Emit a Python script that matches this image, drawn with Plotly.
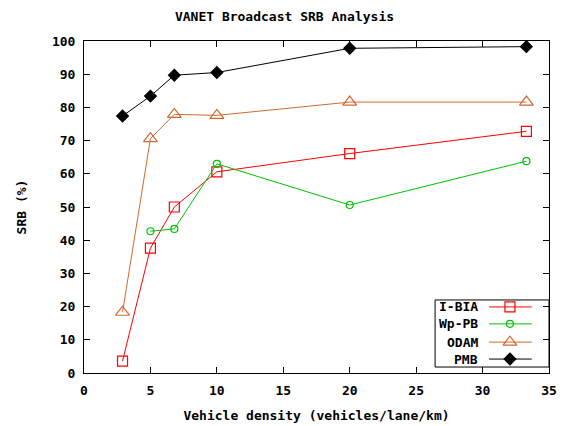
import plotly.graph_objects as go

x_ibia = [2.9, 5, 6.8, 10, 20, 33.3]
y_ibia = [3.6, 37.6, 50.0, 60.6, 66.1, 72.8]
x_wp = [5, 6.8, 10, 20, 33.3]
y_wp = [42.7, 43.4, 63.0, 50.6, 63.8]
x_odam = [2.9, 5, 6.8, 10, 20, 33.3]
y_odam = [18.3, 70.6, 77.9, 77.6, 81.6, 81.6]
x_pmb = [2.9, 5, 6.8, 10, 20, 33.3]
y_pmb = [77.4, 83.4, 89.7, 90.5, 97.8, 98.3]

names = ["I-BIA", "Wp-PB", "ODAM", "PMB"]
colors = ["#ff0000", "#00c000", "#d0692f", "#000000"]
symbols = ["square-open", "circle-open", "triangle-up-open", "diamond"]
sizes = [10, 7, 12, 9]

FONT = "DejaVu Sans Mono"
series = [(x_ibia, y_ibia), (x_wp, y_wp), (x_odam, y_odam), (x_pmb, y_pmb)]

fig = go.Figure()
for (xs, ys), n, c, s, sz in zip(series, names, colors, symbols, sizes):
    fig.add_trace(go.Scatter(x=xs, y=ys, mode="lines+markers", name=n,
                             line=dict(color=c, width=1),
                             marker=dict(symbol=s, size=sz, color=c,
                                         line=dict(color=c, width=1.2)),
                             showlegend=False))

# custom gnuplot-style legend on an overlay axis (0..1)
lx0, lx1 = 0.755, 1.0
ly0, ly1 = 0.018, 0.22
rows = [0.199, 0.148, 0.093, 0.042]
for n, c, s, sz, yy in zip(names, colors, symbols, sizes, rows):
    fig.add_shape(type="line", xref="x2", yref="y2", x0=0.871, x1=0.963, y0=yy, y1=yy,
                  line=dict(color=c, width=1))
    fig.add_trace(go.Scatter(x=[0.916], y=[yy], xaxis="x2", yaxis="y2", mode="markers",
                             marker=dict(symbol=s, size=sz, color=c, line=dict(color=c, width=1.2)),
                             showlegend=False, hoverinfo="skip"))
    fig.add_annotation(xref="x2", yref="y2", x=0.851, y=yy, text="<b>%s</b>" % n,
                       showarrow=False, xanchor="right", yanchor="middle",
                       font=dict(family=FONT, size=13, color="black"))
fig.add_shape(type="rect", xref="x2", yref="y2", x0=lx0, x1=lx1, y0=ly0, y1=ly1,
              line=dict(color="black", width=1), fillcolor="rgba(0,0,0,0)")

axis_common = dict(showgrid=False, zeroline=False, showline=True, linecolor="black",
                   linewidth=1, mirror="allticks", ticks="inside", ticklen=6,
                   tickcolor="black", automargin=False,
                   tickfont=dict(family=FONT, size=13, color="black"))

fig.update_layout(
    width=569, height=426,
    margin=dict(l=84, r=20, t=41, b=53),
    plot_bgcolor="white", paper_bgcolor="white",
    title=dict(text="<b>VANET Broadcast SRB Analysis</b>", x=0.5, xanchor="center",
               y=0.962, yanchor="middle",
               font=dict(family=FONT, size=13, color="black")),
    xaxis=dict(range=[0, 35], tickvals=list(range(0, 36, 5)),
               ticktext=["<b>%d</b>" % v for v in range(0, 36, 5)],
               ticklabelstandoff=5,
               title=dict(text="<b>Vehicle density (vehicles/lane/km)</b>", standoff=14,
                          font=dict(family=FONT, size=13, color="black")),
               **axis_common),
    yaxis=dict(range=[0, 100], tickvals=list(range(0, 101, 10)),
               ticktext=["<b>%d</b>" % v for v in range(0, 101, 10)],
               ticklabelstandoff=5,
               title=dict(text="<b>SRB (%)</b>", standoff=22,
                          font=dict(family=FONT, size=13, color="black")),
               **axis_common),
    xaxis2=dict(range=[0, 1], overlaying="x", visible=False, anchor="y2"),
    yaxis2=dict(range=[0, 1], overlaying="y", visible=False, anchor="x2"),
)

fig.write_html("out.html")
